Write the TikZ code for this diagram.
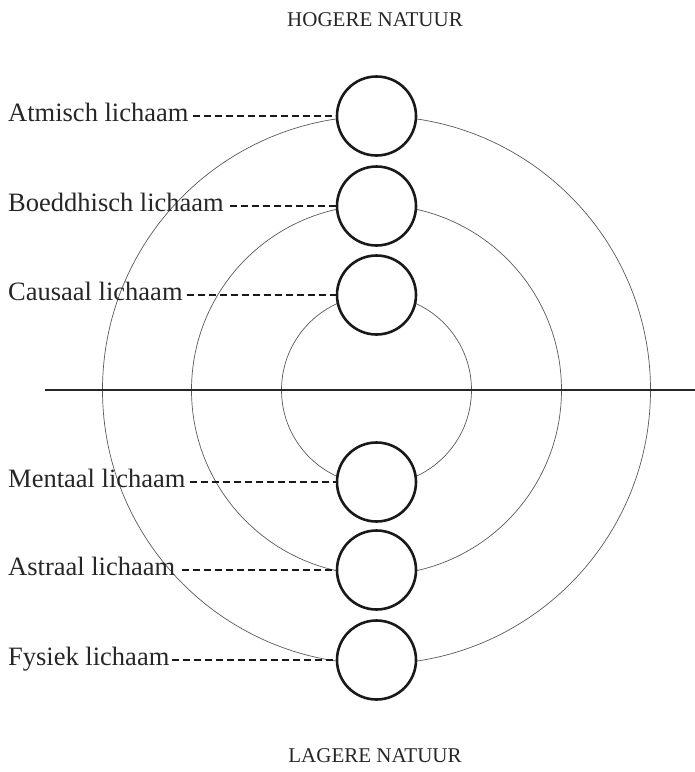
\documentclass[tikz,border=0pt]{standalone}
\usepackage{fontspec}
\setmainfont{Liberation Serif}
\begin{document}
\begin{tikzpicture}[x=1pt,y=-1pt,
  body/.style={circle,draw=black!90,line width=2.6pt,fill=white,minimum size=79pt,inner sep=0pt},
  lbl/.style={anchor=base west,inner sep=0pt,font=\fontsize{26.5}{30}\selectfont,text=black!85},
  title/.style={anchor=base,inner sep=0pt,font=\fontsize{21}{24}\selectfont,text=black!85},
  orbit/.style={draw=black!65,line width=0.7pt},
  leader/.style={draw=black!90,line width=2pt,dash pattern=on 7pt off 4pt}]
\useasboundingbox (0,0) rectangle (695,772);
\coordinate (O) at (376.5,390);
\draw[orbit] (O) circle[radius=274];
\draw[orbit] (O) circle[radius=185];
\draw[orbit] (O) circle[radius=95];
\coordinate (hl) at (45,390);
\coordinate (hr) at (695,390);
\draw[line width=2pt,draw=black!85] (hl) -- (hr);
\node[title] (hoog) at (375,26) {HOGERE NATUUR};
\node[title] (laag) at (375,762) {LAGERE NATUUR};
\node[body] (c1) at (376.5,116) {};
\node[body] (c2) at (376.5,206) {};
\node[body] (c3) at (376.5,295) {};
\node[body] (c4) at (376.5,482) {};
\node[body] (c5) at (376.5,570) {};
\node[body] (c6) at (376.5,660) {};
\node[lbl] (l1) at (8,121.5) {Atmisch lichaam};
\node[lbl] (l2) at (8,211.5) {Boeddhisch lichaam};
\node[lbl] (l3) at (8,300.5) {Causaal lichaam};
\node[lbl] (l4) at (8,487.5) {Mentaal lichaam};
\node[lbl] (l5) at (8,575.5) {Astraal lichaam};
\node[lbl] (l6) at (8,665.5) {Fysiek lichaam};
\draw[leader] ([xshift=4pt]l1.east |- c1.west) -- (c1.west);
\draw[leader] ([xshift=6pt]l2.east |- c2.west) -- (c2.west);
\draw[leader] ([xshift=4pt]l3.east |- c3.west) -- (c3.west);
\draw[leader] ([xshift=4pt]l4.east |- c4.west) -- (c4.west);
\draw[leader] ([xshift=7pt]l5.east |- c5.west) -- (c5.west);
\draw[leader] ([xshift=2pt]l6.east |- c6.west) -- (c6.west);
\end{tikzpicture}
\end{document}
